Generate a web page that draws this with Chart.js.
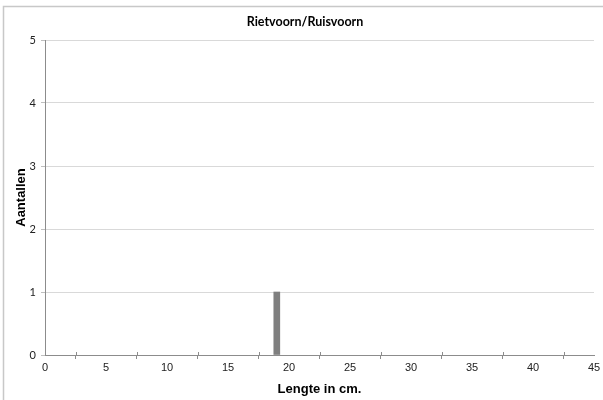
<!DOCTYPE html>
<html>
<head>
<meta charset="utf-8">
<script src="https://cdn.jsdelivr.net/npm/chart.js@4.4.1/dist/chart.umd.min.js"></script>
<style>
  html, body { margin: 0; padding: 0; background: #fff; }
  #wrap { width: 603px; height: 400px; position: relative; }
</style>
</head>
<body>
<div id="wrap"><canvas id="c" width="603" height="400"></canvas></div>
<script>
// Length classes (cm) and the number of fish counted in each
const lengths = [19];
const counts = [1];
const chartTitle = 'Rietvoorn/Ruisvoorn';
const xTitle = 'Lengte in cm.';
const yTitle = 'Aantallen';

const points = lengths.map((l, i) => ({ x: l, y: counts[i] }));

// Thin frame around the chart (top and left edges visible) and the chart title
const framePlugin = {
  id: 'frame',
  beforeDraw(chart) {
    const ctx = chart.ctx;
    ctx.save();
    ctx.fillStyle = '#ffffff';
    ctx.fillRect(0, 0, chart.width, chart.height);
    ctx.strokeStyle = '#c8c8c8';
    ctx.lineWidth = 1.5;
    ctx.strokeRect(3.5, 6.5, chart.width + 20, chart.height + 20);
    ctx.fillStyle = '#000';
    ctx.font = 'bold 12.5px Lato';
    ctx.textAlign = 'center';
    ctx.textBaseline = 'middle';
    ctx.fillText(chartTitle, 305, 22);
    ctx.restore();
  }
};

// Minor tick marks between the labelled x ticks, drawn upward from the axis
const minorTicks = {
  id: 'minorTicks',
  afterDatasetsDraw(chart) {
    const x = chart.scales.x, area = chart.chartArea, ctx = chart.ctx;
    ctx.save();
    ctx.strokeStyle = '#8c8c8c';
    ctx.lineWidth = 1;
    for (let v = 2.5; v < 45; v += 5) {
      const px = Math.round(x.getPixelForValue(v)) + 0.5;
      ctx.beginPath();
      ctx.moveTo(px, area.bottom);
      ctx.lineTo(px, area.bottom - 3);
      ctx.stroke();
    }
    ctx.restore();
  }
};

new Chart(document.getElementById('c'), {
  type: 'bar',
  data: {
    datasets: [{
      data: points,
      backgroundColor: '#7f7f7f',
      borderWidth: 0,
      barThickness: 6
    }]
  },
  plugins: [framePlugin, minorTicks],
  options: {
    responsive: false,
    animation: false,
    layout: { padding: { top: 40, right: 9, bottom: 0, left: 0 } },
    plugins: {
      legend: { display: false },
      tooltip: { enabled: false },
      title: { display: false }
    },
    scales: {
      x: {
        type: 'linear',
        min: 0,
        max: 45,
        offset: false,
        grid: {
          display: true,
          drawOnChartArea: false,
          drawTicks: true,
          tickLength: 4,
          color: '#8c8c8c'
        },
        border: { display: true, color: '#8c8c8c', width: 1 },
        ticks: {
          stepSize: 5,
          color: '#222',
          font: { family: 'Liberation Sans', size: 11 },
          padding: 2,
          maxRotation: 0
        },
        title: {
          display: true,
          text: xTitle,
          color: '#000',
          font: { family: 'Liberation Sans', size: 13, weight: 'bold' },
          padding: { top: 2, bottom: 3 }
        },
        afterFit(s) { s.height = 45; }
      },
      y: {
        min: 0,
        max: 5,
        grid: {
          color: '#d9d9d9',
          tickLength: 4,
          tickColor: '#bfbfbf'
        },
        border: { display: true, color: '#8c8c8c', width: 1 },
        ticks: {
          stepSize: 1,
          color: '#222',
          font: { family: 'Lato', size: 11 },
          padding: 5
        },
        title: {
          display: true,
          text: yTitle,
          color: '#000',
          font: { family: 'Liberation Sans', size: 13, weight: 'bold' },
          padding: { top: 14, bottom: 2 }
        },
        afterFit(s) { s.width = 45; }
      }
    }
  }
});
</script>
</body>
</html>
